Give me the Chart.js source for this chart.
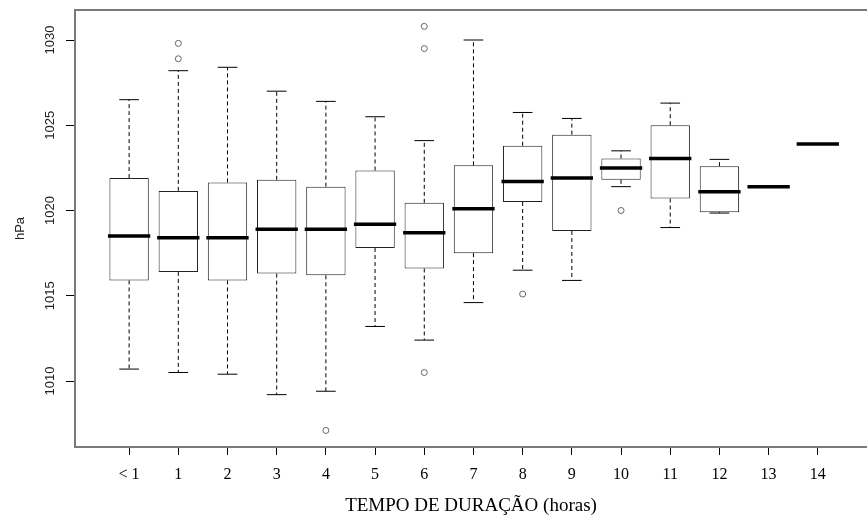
<!DOCTYPE html>
<html>
<head>
<meta charset="utf-8">
<script src="https://cdn.jsdelivr.net/npm/chart.js@4.4.1/dist/chart.umd.min.js"></script>
<style>
  html, body { margin: 0; padding: 0; background: #fff; }
  #wrap { width: 867px; height: 517px; }
</style>
</head>
<body>
<div id="wrap"><canvas id="boxChart" width="867" height="517"></canvas></div>
<script>
const categories = ['< 1', '1', '2', '3', '4', '5', '6', '7', '8', '9', '10', '11', '12', '13', '14'];
const whiskerLow = [1010.7, 1010.5, 1010.4, 1009.2, 1009.4, 1013.2, 1012.4, 1014.6, 1016.5, 1015.9, 1021.4, 1019.0, 1019.85, 1021.4, 1023.9];
const boxLow = [1015.9, 1016.4, 1015.9, 1016.3, 1016.2, 1017.8, 1016.6, 1017.5, 1020.5, 1018.8, 1021.8, 1020.7, 1019.9, 1021.4, 1023.9];
const medians = [1018.5, 1018.4, 1018.4, 1018.9, 1018.9, 1019.2, 1018.7, 1020.1, 1021.7, 1021.9, 1022.5, 1023.05, 1021.1, 1021.4, 1023.9];
const boxHigh = [1021.9, 1021.15, 1021.65, 1021.8, 1021.4, 1022.35, 1020.45, 1022.65, 1023.8, 1024.45, 1023.05, 1025.0, 1022.6, 1021.4, 1023.9];
const whiskerHigh = [1026.5, 1028.2, 1028.4, 1027.0, 1026.4, 1025.5, 1024.1, 1030.0, 1025.75, 1025.4, 1023.5, 1026.3, 1023.0, 1021.4, 1023.9];
const outlierGroup = [1, 1, 4, 6, 6, 6, 8, 10];
const outlierValue = [1029.8, 1028.9, 1007.1, 1030.8, 1029.5, 1010.5, 1015.1, 1020.0];
const yTicks = [1010, 1015, 1020, 1025, 1030];

const frameColor = '#7a7a7a';
const serif = "'Liberation Serif', 'Times New Roman', serif";

Chart.defaults.font.family = "'Liberation Sans', Arial, sans-serif";

// boxes as floating bars, the rest as broken line segments (null = gap)
const boxes = categories.map((c, i) => ({ x: i, y: [boxLow[i], boxHigh[i]] }));

const whiskers = [];
const caps = [];
const medianLines = [];
categories.forEach((c, i) => {
  whiskers.push({ x: i, y: boxHigh[i] }, { x: i, y: whiskerHigh[i] }, { x: i, y: null });
  whiskers.push({ x: i, y: boxLow[i] }, { x: i, y: whiskerLow[i] }, { x: i, y: null });
  caps.push({ x: i - 0.2, y: whiskerHigh[i] }, { x: i + 0.2, y: whiskerHigh[i] }, { x: i, y: null });
  caps.push({ x: i - 0.2, y: whiskerLow[i] }, { x: i + 0.2, y: whiskerLow[i] }, { x: i, y: null });
  medianLines.push({ x: i - 0.43, y: medians[i] }, { x: i + 0.43, y: medians[i] }, { x: i, y: null });
});
const outliers = outlierGroup.map((g, k) => ({ x: g, y: outlierValue[k] }));

const segmentStyle = { type: 'line', pointRadius: 0, spanGaps: false, fill: false, tension: 0 };

new Chart(document.getElementById('boxChart'), {
  type: 'bar',
  data: {
    datasets: [
      {
        data: boxes,
        backgroundColor: '#fff',
        borderColor: '#222',
        borderWidth: 1,
        borderSkipped: false,
        barPercentage: 1,
        categoryPercentage: 0.8,
        order: 4
      },
      { ...segmentStyle, data: whiskers, borderColor: '#000', borderWidth: 1, borderDash: [4, 3], order: 3 },
      { ...segmentStyle, data: caps, borderColor: '#000', borderWidth: 1, order: 3 },
      { ...segmentStyle, data: medianLines, borderColor: '#000', borderWidth: 3.5, borderCapStyle: 'butt', order: 0 },
      {
        type: 'line',
        data: outliers,
        showLine: false,
        pointStyle: 'circle',
        pointRadius: 3,
        pointBackgroundColor: 'rgba(0,0,0,0)',
        pointBorderColor: '#666',
        pointBorderWidth: 1,
        order: 1
      }
    ]
  },
  options: {
    responsive: false,
    animation: false,
    devicePixelRatio: 1,
    events: [],
    layout: { autoPadding: false, padding: { top: 10, right: 0, bottom: 0, left: 0 } },
    plugins: { legend: { display: false }, tooltip: { enabled: false } },
    scales: {
      x: {
        type: 'linear',
        position: 'bottom',
        offset: false,
        min: -1.1,
        max: 15.0,
        afterBuildTicks: (s) => { s.ticks = categories.map((c, i) => ({ value: i })); },
        ticks: {
          autoSkip: false,
          maxRotation: 0,
          callback: (v, i) => categories[i],
          font: { family: serif, size: 16 },
          color: '#000',
          padding: 10.4
        },
        grid: { offset: false, drawOnChartArea: false, tickLength: 8, color: '#000' },
        border: { color: frameColor, width: 2 },
        title: {
          display: true,
          text: 'TEMPO DE DURAÇÃO (horas)',
          font: { family: serif, size: 19, lineHeight: 1 },
          color: '#000',
          padding: { top: 2, bottom: 1 }
        }
      },
      xTop: {
        type: 'linear',
        position: 'top',
        offset: false,
        min: -1.1,
        max: 15.0,
        ticks: { display: false },
        grid: { offset: false, drawOnChartArea: false, drawTicks: false },
        border: { color: frameColor, width: 2 }
      },
      y: {
        type: 'linear',
        min: 1006.13,
        max: 1031.76,
        afterBuildTicks: (s) => { s.ticks = yTicks.map((v) => ({ value: v })); },
        ticks: {
          autoSkip: false,
          minRotation: 90,
          maxRotation: 90,
          crossAlign: 'center',
          padding: 1,
          callback: (v) => String(v),
          font: { size: 13 },
          color: '#222'
        },
        grid: { drawOnChartArea: false, tickLength: 9, color: '#000' },
        border: { color: frameColor, width: 2 },
        title: {
          display: true,
          text: 'hPa',
          font: { size: 13 },
          color: '#222',
          padding: { top: 12.2, bottom: 20.6 }
        }
      }
    }
  }
});
</script>
</body>
</html>
